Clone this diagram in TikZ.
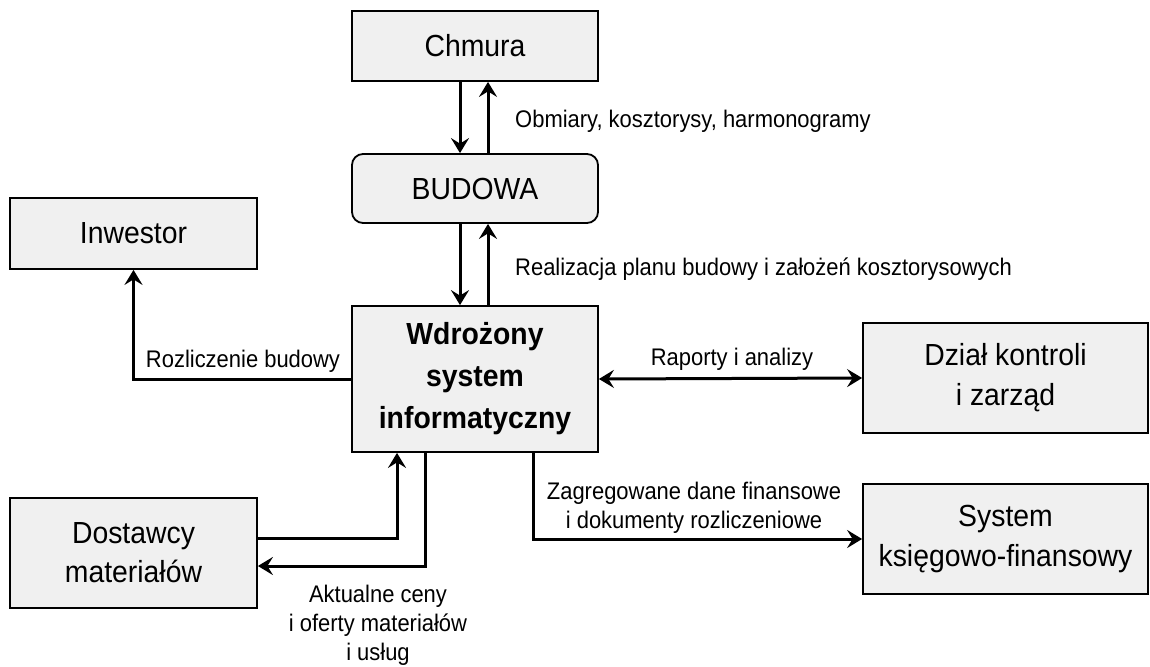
\documentclass[tikz,border=0pt]{standalone}
\usepackage{fontspec}
\setmainfont{Liberation Sans}[FakeStretch=0.93]
\usetikzlibrary{arrows.meta}
\begin{document}
\begin{tikzpicture}[x=1pt,y=-1pt,
  box/.style={draw=black,line width=1.8pt,fill=black!6,inner sep=0pt,align=center,
    font=\fontsize{30.5}{39}\selectfont},
  lab/.style={inner sep=0pt,align=center,font=\fontsize{24}{29}\selectfont\addfontfeatures{FakeStretch=0.915}},
  arr/.style={line width=3pt,-{Stealth[length=15pt,width=18pt,inset=5.5pt]}},
  darr/.style={line width=3pt,{Stealth[length=15pt,width=18pt,inset=5.5pt]}-{Stealth[length=15pt,width=18pt,inset=5.5pt]}}]
\useasboundingbox (0,0) rectangle (1150,666);
\node[box,minimum width=246,minimum height=70] (chmura) at (475,46) {Chmura};
\node[box,minimum width=246,minimum height=69,rounded corners=11pt] (budowa) at (475,188.5) {BUDOWA};
\node[box,minimum width=246,minimum height=146,font=\fontsize{30.5}{42}\selectfont\bfseries] (main) at (475,379) {Wdrożony\\system\\informatyczny};
\node[box,minimum width=247,minimum height=71] (inw) at (133.5,233.5) {Inwestor};
\node[box,minimum width=247,minimum height=110] (dost) at (133.5,553) {Dostawcy\\materiałów};
\node[box,minimum width=285,minimum height=110,font=\fontsize{30.5}{40}\selectfont] (dzial) at (1005.5,378) {Dział kontroli\\i zarząd};
\node[box,minimum width=285,minimum height=110,font=\fontsize{30.5}{40}\selectfont] (sys) at (1005.5,539) {System\\księgowo-finansowy};

\draw[arr] ([xshift=-15]chmura.south) -- ([xshift=-15]budowa.north);
\draw[arr] ([xshift=13]budowa.north) -- ([xshift=13]chmura.south);
\draw[arr] ([xshift=-15]budowa.south) -- ([xshift=-15]main.north);
\draw[arr] ([xshift=13]main.north) -- ([xshift=13]budowa.south);
\draw[arr] (main.west) -| (inw.south);
\draw[darr] (main.east) -- (dzial.west);
\draw[arr] ([xshift=58]main.south) |- (sys.west);
\draw[arr] ([yshift=15]dost.east) -| ([xshift=-78]main.south);
\draw[arr] ([xshift=-50]main.south) |- ([yshift=-13]dost.east);

\node[lab,anchor=base west] (l1) at (515,128) {Obmiary, kosztorysy, harmonogramy};
\node[lab,anchor=base west] (l2) at (515,275) {Realizacja planu budowy i założeń kosztorysowych};
\node[lab,anchor=base] (l3) at (243,367) {Rozliczenie budowy};
\node[lab,anchor=base] (l4) at (732,365) {Raporty i analizy};
\node[lab,anchor=base] (l5) at (694,528) {Zagregowane dane finansowe\\i dokumenty rozliczeniowe};
\node[lab,anchor=base] (l6) at (378,660) {Aktualne ceny\\i oferty materiałów\\i usług};
\end{tikzpicture}
\end{document}
